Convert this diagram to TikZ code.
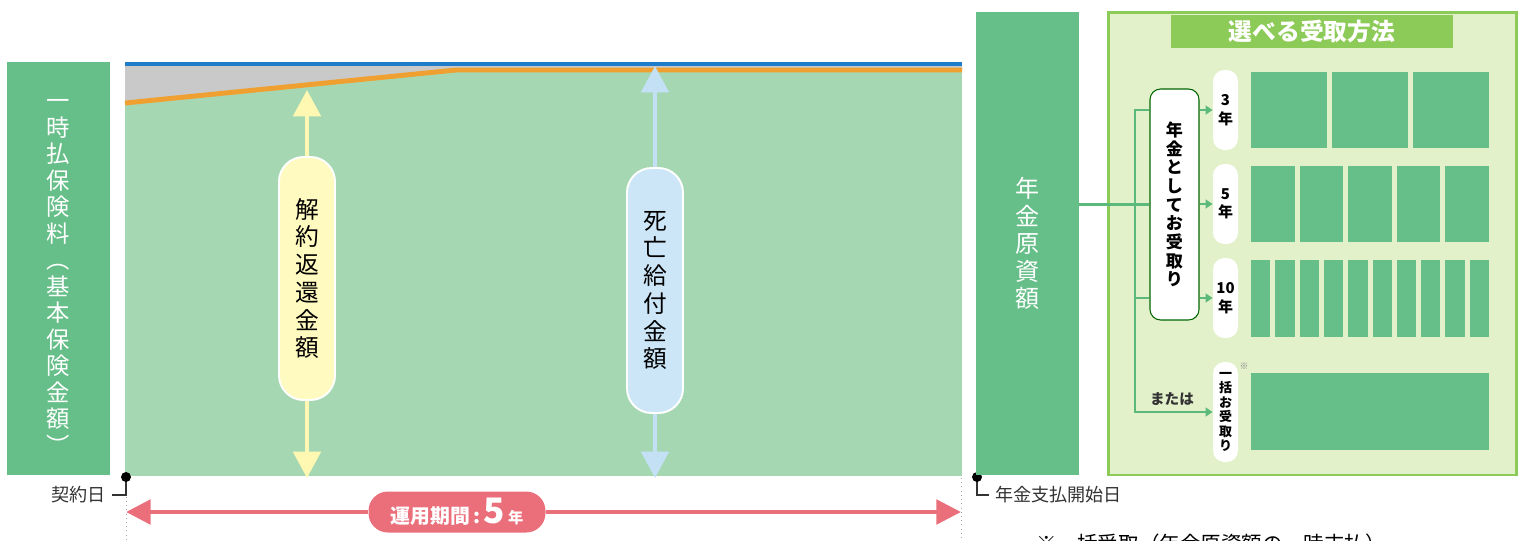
\documentclass[tikz,border=0pt]{standalone}
\usepackage{fontspec}
\setmainfont{Noto Sans CJK JP}
\usetikzlibrary{arrows.meta,positioning}

\def\px{0.569pt}
\newcommand\fs[2]{\fontsize{#1}{#2}\selectfont}

\definecolor{boxgreen}{HTML}{66BF88}
\definecolor{areagreen}{HTML}{A6D7B3}
\definecolor{capgray}{HTML}{C9C9C9}
\definecolor{topblue}{HTML}{1E7CC8}
\definecolor{lineorange}{HTML}{F0A030}
\definecolor{pillyellow}{HTML}{FFFAC0}
\definecolor{arrowyellow}{HTML}{FFF8B2}
\definecolor{pillblue}{HTML}{CCE6F7}
\definecolor{arrowblue}{HTML}{C3E0F4}
\definecolor{panelfill}{HTML}{E3F1CB}
\definecolor{panelline}{HTML}{8DCB58}
\definecolor{linkgreen}{HTML}{5CB97C}
\definecolor{termpink}{HTML}{EB6F7B}
\definecolor{notegray}{HTML}{333333}

\tikzset{
  bigbox/.style={fill=boxgreen, text=white, inner sep=0pt, align=center},
  vpill/.style={draw=white, line width=1.1pt, rounded corners=14pt, inner sep=0pt, align=center, text=black},
  shaft/.style={line width=2.8pt, -{Triangle[width=15.4pt,length=15pt]}},
  yearpill/.style={fill=white, rounded corners=6.5pt, minimum width=25*\px, inner sep=0pt, align=center, text=black},
  link/.style={draw=linkgreen, line width=1.4pt},
  linkarrow/.style={link, -{Triangle[width=5pt,length=4pt]}},
  termarrow/.style={draw=termpink, line width=2.8pt, -{Triangle[width=13.7pt,length=14pt]}},
  datelabel/.style={text=notegray, font=\fs{10.3pt}{11pt}},
  tick/.style={draw=notegray, line width=0.85pt}
}

\begin{document}
\begin{tikzpicture}[x=0.2mm, y=-0.2mm]
  \fill[white] (0,0) rectangle (1522,540);
  \useasboundingbox (0,0) rectangle (1522,540);

  % premium
  \node[bigbox, minimum width=103*\px, minimum height=413*\px] (premium) at (58.5,268.5) {};
  \node[text=white, inner sep=0pt, align=center, font=\fs{13.3pt}{15.1pt}] (premium_text) at (58.5,277)
        {一\\時\\払\\保\\険\\料\\︵\\基\\本\\保\\険\\金\\額\\︶};

  % five years of the contract
  \fill[areagreen] (125,64) rectangle (962,476);
  \fill[capgray] (125,64) -- (962,64) -- (962,70) -- (456,70) -- (125,103) -- cycle;
  \draw[lineorange, line width=2.8pt] (125,103) -- (456,70) -- (962,70);
  \draw[topblue, line width=2.3pt] (125,64) -- (962,64);

  \node[vpill, fill=pillyellow, minimum width=56*\px, minimum height=243*\px, font=\fs{13.5pt}{15.8pt}] (surrender) at (307,278.5)
        {解\\約\\返\\還\\金\\額};
  \coordinate (surrender_top) at (307,90);
  \coordinate (surrender_bot) at (307,478);
  \draw[shaft, draw=arrowyellow] (surrender) -- (surrender_top);
  \draw[shaft, draw=arrowyellow] (surrender) -- (surrender_bot);

  \node[vpill, fill=pillblue, minimum width=56*\px, minimum height=245*\px, font=\fs{13.5pt}{15.8pt}] (death) at (655,290.5)
        {死\\亡\\給\\付\\金\\額};
  \coordinate (death_top) at (655,66);
  \coordinate (death_bot) at (655,478);
  \draw[shaft, draw=arrowblue] (death) -- (death_top);
  \draw[shaft, draw=arrowblue] (death) -- (death_bot);

  % dates and term
  \coordinate (start_dot) at (126,477);
  \coordinate (pay_dot) at (977,477);
  \draw[dotted, gray!70] (126,484) -- (126,540);
  \draw[dotted, gray!70] (961,478) -- (961,540);
  \node[datelabel, anchor=east] (start_date) at (112,495) {契約日};
  \node[datelabel, anchor=west] (pay_date) at (989,495) {年金支払開始日};
  \draw[tick] (start_date.east) -| (start_dot);
  \draw[tick] (pay_dot) |- (pay_date.west);
  \fill[black] (start_dot) circle (5);
  \fill[black] (pay_dot) circle (5);

  \node[fill=termpink, text=white, rounded corners=11pt, minimum width=177*\px, minimum height=41*\px, inner sep=0pt] (term) at (457,512)
        {{\bfseries\fs{11.3pt}{12pt}運用期間\,:\,}{\bfseries\fs{20pt}{20pt}5}\,{\bfseries\fs{8.7pt}{10pt}年}};
  \coordinate (term_left) at (126,512);
  \coordinate (term_right) at (961,512);
  \draw[termarrow] (term) -- (term_left);
  \draw[termarrow] (term) -- (term_right);

  % annuity fund and payout choices
  \node[bigbox, minimum width=103*\px, minimum height=463*\px, font=\fs{13.7pt}{15.6pt}] (fund) at (1027.5,243.5)
        {年\\金\\原\\資\\額};
  \node[draw=panelline, fill=panelfill, line width=1.7pt, minimum width=408*\px, minimum height=463*\px, inner sep=0pt] (panel) at (1312,243.5) {};
  \node[fill=panelline, text=white, font=\bfseries\fs{13.5pt}{14pt}, minimum width=282*\px, minimum height=33*\px, inner sep=0pt] (method_title) at (1312,31.5)
        {選べる受取方法};

  \node[draw=green!40!black, line width=0.6pt, fill=white, rounded corners=6pt, minimum width=49*\px, minimum height=231*\px, inner sep=0pt, align=center,
        font=\bfseries\fs{9.7pt}{10.6pt}] (annuity) at (1174.5,204.5)
        {年\\金\\と\\し\\て\\お\\受\\取\\り};

  \node[yearpill, minimum height=80*\px, font=\bfseries\fs{8.5pt}{10.5pt}] (pill_3) at (1225.5,110) {3\\年};
  \node[yearpill, minimum height=80*\px, font=\bfseries\fs{8.5pt}{10.5pt}] (pill_5) at (1225.5,204) {5\\年};
  \node[yearpill, minimum height=80*\px, font=\bfseries\fs{8.5pt}{10.5pt}] (pill_10) at (1225.5,298) {10\\年};
  \node[yearpill, minimum height=100*\px, font=\bfseries\fs{7.4pt}{8.2pt}] (lump_pill) at (1225.5,412) {一\\括\\お\\受\\取\\り};
  \node[text=gray, font=\fs{5pt}{5pt}, inner sep=0pt] (lump_mark) at (1244,366) {※};

  \coordinate (trunk) at (1135,204);
  \draw[link] (fund.east |- annuity.west) -- (annuity.west);
  \draw[linkarrow] (annuity.west |- pill_3) -| (trunk) |- (lump_pill.west);
  \draw[link] (trunk |- pill_10) -- (annuity.west |- pill_10);
  \foreach \y in {3,5,10}
    \draw[linkarrow] (annuity.east |- pill_\y) -- (pill_\y.west);
  \node[text=notegray, font=\bfseries\fs{8.3pt}{9pt}] (or_label) at (1172,399) {または};

  \foreach \i in {0,...,2}
    \fill[boxgreen] ({1251+\i*81},72) rectangle ++(76,76);
  \foreach \i in {0,...,4}
    \fill[boxgreen] ({1251+\i*48.6},166) rectangle ++(43.6,76);
  \foreach \i in {0,...,9}
    \fill[boxgreen] ({1251+\i*24.3},260) rectangle ++(19.3,77);
  \fill[boxgreen] (1251,373) rectangle (1489,450);

  \node[anchor=west, font=\fs{11.7pt}{12pt}] (footnote) at (1030,544) {※一括受取（年金原資額の一時支払）};
\end{tikzpicture}
\end{document}
